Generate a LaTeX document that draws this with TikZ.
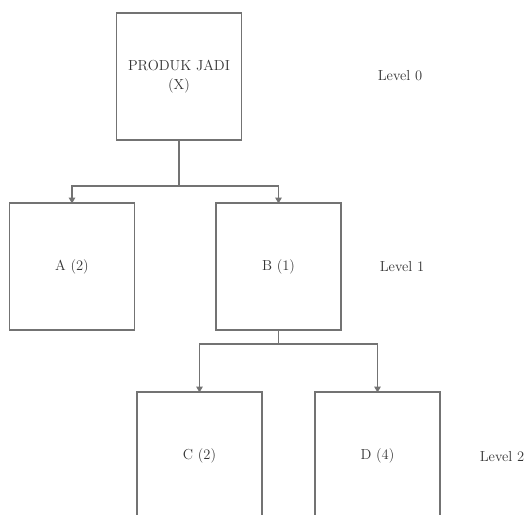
\documentclass[tikz,border=0pt]{standalone}
\usetikzlibrary{arrows.meta}
\begin{document}
\begin{tikzpicture}[x=1pt,y=-1pt,
  box/.style={draw=black!55, line width=1.3pt, inner sep=0pt, outer sep=0pt,
    minimum width=125pt, minimum height=127pt, align=center,
    text=black!80, font=\fontsize{14.5}{19}\selectfont},
  lvl/.style={text=black!80, font=\fontsize{14.5}{19}\selectfont},
  conn/.style={draw=black!55, line width=1.3pt},
  arr/.style={conn, -{Triangle[length=6pt,width=6.5pt]}, shorten >=-0.5pt}]
\clip (0,0) rectangle (532,514);
\fill[white] (0,0) rectangle (532,514);
\node[box] (X) at (179,76.5) {PRODUK JADI\\(X)};
\node[box] (A) at (72,266.5) {A (2)};
\node[box] (B) at (278.5,266.5) {B (1)};
\node[box] (C) at (199.5,455.5) {C (2)};
\node[box] (D) at (377.5,455.5) {D (4)};
\node[lvl] (L0) at (400,76) {Level 0};
\node[lvl] (L1) at (402,267) {Level 1};
\node[lvl] (L2) at (502,457) {Level 2};
\coordinate (j0) at (179,186);
\coordinate (j1) at (278.5,344);
\draw[conn] (X.south) -- (j0);
\draw[arr] (j0) -| (A.north);
\draw[arr] (j0) -| (B.north);
\draw[conn] (B.south) -- (j1);
\draw[arr] (j1) -| (C.north);
\draw[arr] (j1) -| (D.north);
\end{tikzpicture}
\end{document}
